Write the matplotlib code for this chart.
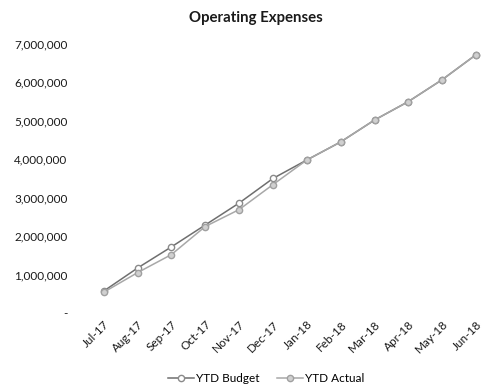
import matplotlib
matplotlib.use("Agg")
import matplotlib.pyplot as plt
from matplotlib.ticker import FuncFormatter

months = ["Jul-17", "Aug-17", "Sep-17", "Oct-17", "Nov-17", "Dec-17",
          "Jan-18", "Feb-18", "Mar-18", "Apr-18", "May-18", "Jun-18"]
ytd_budget = [570000, 1170000, 1720000, 2290000, 2860000, 3500000,
              3980000, 4450000, 5020000, 5500000, 6070000, 6720000]
ytd_actual = [540000, 1050000, 1520000, 2250000, 2690000, 3340000,
              3980000, 4450000, 5020000, 5500000, 6070000, 6720000]
yticks = [0, 1000000, 2000000, 3000000, 4000000, 5000000, 6000000, 7000000]

plt.rcParams['font.family'] = ['Lato', 'DejaVu Sans']

fig = plt.figure(figsize=(4.93, 3.92), dpi=100)
ax = fig.add_axes([0.176, 0.2015, 0.824, 0.6865])

x = list(range(len(months)))
ax.plot(x, ytd_budget, color="#6f6f6f", lw=1.1, marker="o", ms=4.5,
        mfc="white", mec="#8a8a8a", mew=1.0, label="YTD Budget")
ax.plot(x, ytd_actual, color="#a8a8a8", lw=1.1, marker="o", ms=4.5,
        mfc="#d0d0d0", mec="#a0a0a0", mew=1.0, label="YTD Actual")

ax.set_xlim(-0.5, len(months) - 0.5)
ax.set_ylim(0, 7000000)
ax.set_yticks(yticks)
ax.yaxis.set_major_formatter(FuncFormatter(lambda v, p: "-" if v == 0 else f"{v:,.0f}"))
ax.set_xticks(x)
ax.set_xticklabels(months, rotation=45, ha="right", rotation_mode="anchor")
ax.tick_params(axis="both", length=0, labelsize=8.5, colors="#1a1a1a")
ax.tick_params(axis="y", pad=14)
ax.tick_params(axis="x", pad=4)
for s in ax.spines.values():
    s.set_visible(False)

fig.text(0.52, 0.955, "Operating Expenses", ha="center", va="center",
         fontsize=10.8, fontweight="bold", color="#1a1a1a")

fig.legend(loc="center", bbox_to_anchor=(0.54, 0.035), ncol=2, frameon=False,
           fontsize=8.5, handlelength=2.2, handletextpad=0.2, columnspacing=1.5)

fig.savefig("out.png", dpi=100)
